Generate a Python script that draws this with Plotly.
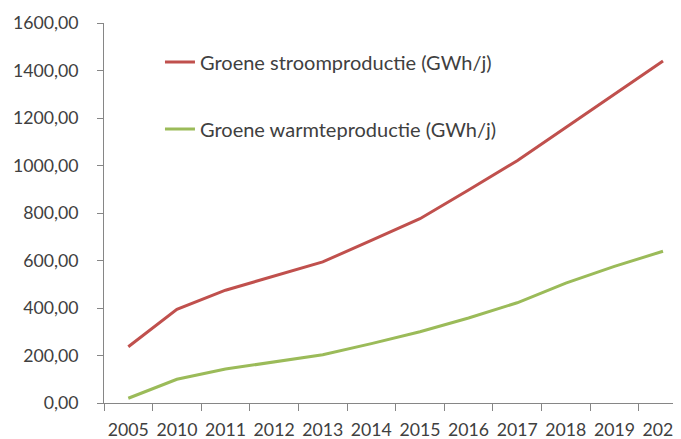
import plotly.graph_objects as go

years = ["2005", "2010", "2011", "2012", "2013", "2014", "2015", "2016", "2017", "2018", "2019", "2020"]
stroom = [237, 394, 475, 535, 594, 685, 776, 897, 1020, 1160, 1300, 1440]
warmte = [20, 100, 143, 173, 203, 250, 300, 358, 422, 505, 575, 639]

name_stroom = "Groene stroomproductie (GWh/j)"
name_warmte = "Groene warmteproductie (GWh/j)"

font_family = "Lato, 'Open Sans', sans-serif"
text_color = "#404040"
axis_color = "#868686"

fig = go.Figure()
fig.add_trace(go.Scatter(x=years, y=stroom, mode="lines", name=name_stroom,
                         legendgroup="a",
                         line=dict(color="#C0504D", width=3)))
fig.add_trace(go.Scatter(x=years, y=warmte, mode="lines", name=name_warmte,
                         legendgroup="b",
                         line=dict(color="#9BBB59", width=3)))

fig.update_layout(
    width=673, height=431,
    margin=dict(l=96, r=0, t=15, b=36),
    plot_bgcolor="white", paper_bgcolor="white",
    separators=", ",
    font=dict(family=font_family, size=17.7, color=text_color),
    showlegend=True,
    legend=dict(x=0.097, y=0.949, xanchor="left", yanchor="top",
                bgcolor="rgba(0,0,0,0)", tracegroupgap=38,
                font=dict(size=20, color=text_color)),
    xaxis=dict(type="category", range=[-0.5, 11.37],
               showline=True, linecolor=axis_color, linewidth=1,
               ticks="outside", tickson="boundaries", ticklen=7,
               tickcolor=axis_color, showgrid=False, zeroline=False,
               tickangle=0, automargin=False,
               ticklabelstandoff=11,
               tickfont=dict(size=17.7, color=text_color)),
    yaxis=dict(range=[0, 1600], dtick=200, tickformat=".2f",
               showline=True, linecolor=axis_color, linewidth=1,
               ticks="outside", ticklen=6, tickcolor=axis_color,
               showgrid=False, zeroline=False, automargin=False,
               ticklabelstandoff=15,
               tickfont=dict(size=17.7, color=text_color)),
)

fig.write_html("out.html")
